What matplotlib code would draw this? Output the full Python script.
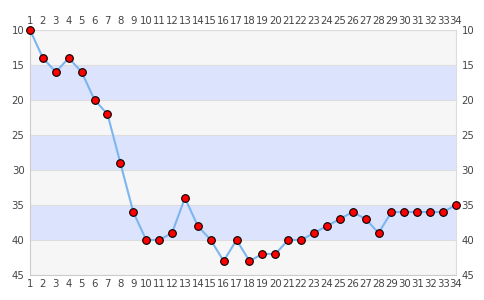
import matplotlib
matplotlib.use("Agg")
import matplotlib.pyplot as plt

rounds = list(range(1, 35))
positions = [10, 14, 16, 14, 16, 20, 22, 29, 36, 40, 40, 39, 34, 38, 40, 43, 40, 43,
             42, 42, 40, 40, 39, 38, 37, 36, 37, 39, 36, 36, 36, 36, 36, 35]
y_ticks = [10, 15, 20, 25, 30, 35, 40, 45]
band_colors = ["#f6f6f6", "#dce4fd"]

fig = plt.figure(figsize=(4.85, 3.0), dpi=100)
ax = fig.add_axes([30 / 485, 1 - 275 / 300, 426 / 485, 245 / 300])

for i in range(len(y_ticks) - 1):
    ax.axhspan(y_ticks[i], y_ticks[i + 1], color=band_colors[i % 2], zorder=0, lw=0)
for t in y_ticks:
    ax.axhline(t, color="#dddddd", lw=0.8, zorder=1)

ax.plot(rounds, positions, color="#7cb5f0", lw=1.5, zorder=2, clip_on=False)
ax.plot(rounds, positions, ls="none", marker="o", ms=5.5, mfc="#ff0000", mec="#000000",
        mew=0.8, zorder=3, clip_on=False)

ax.set_xlim(1, 34)
ax.set_ylim(45, 10)
ax.set_xticks(rounds)
ax.set_yticks(y_ticks)
ax.tick_params(axis="both", length=0, labelsize=7.3, labelcolor="#444444",
               top=True, labeltop=True, right=True, labelright=True, pad=4)
ax.tick_params(axis="x", pad=3)
for s in ["left", "bottom"]:
    ax.spines[s].set_color("#cccccc")
for s in ["top", "right"]:
    ax.spines[s].set_color("#dddddd")

fig.savefig("out.png", dpi=100)
